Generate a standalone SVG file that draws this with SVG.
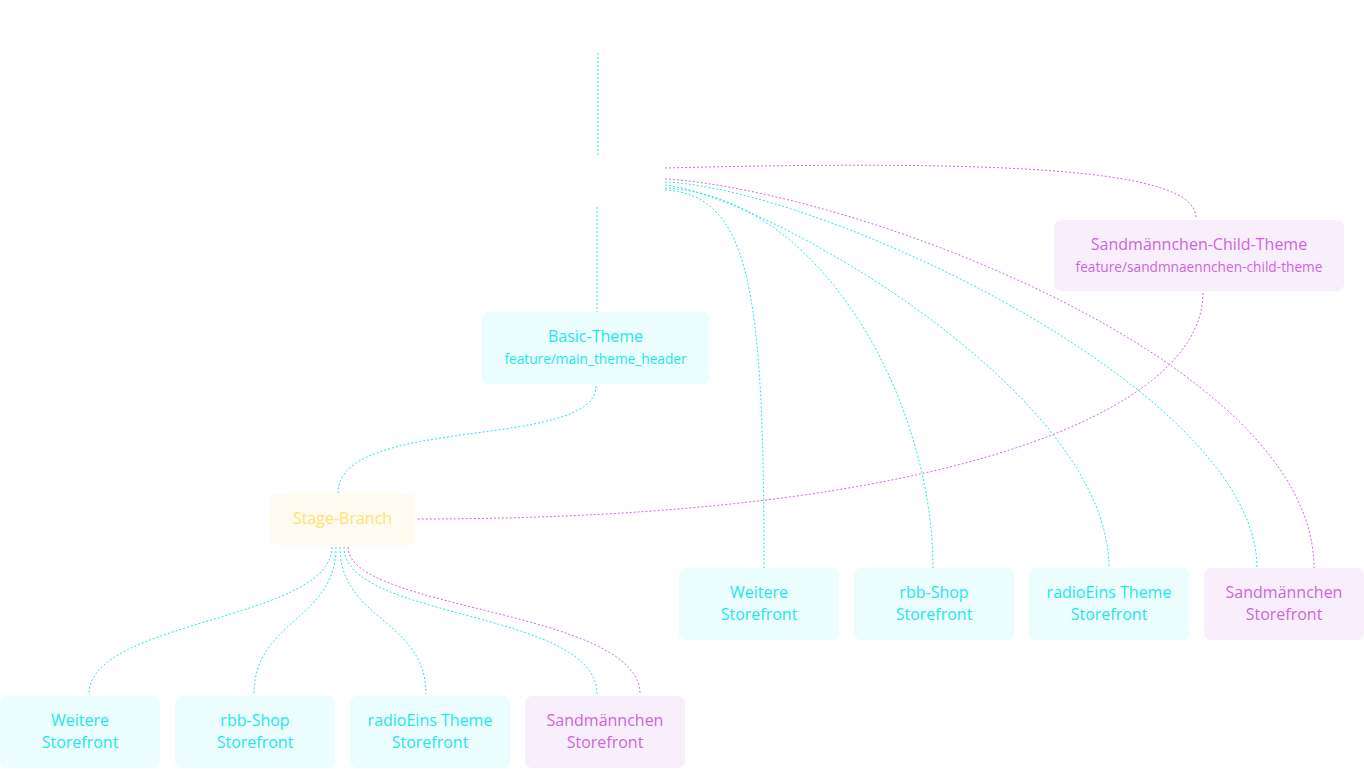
<svg xmlns="http://www.w3.org/2000/svg" width="1364" height="769" viewBox="0 0 1364 769">
<style>
.c{fill:none;stroke:#2de3ea;stroke-width:1;stroke-dasharray:2 2}
.p{fill:none;stroke:#cf6ae0;stroke-width:1;stroke-dasharray:2 2}
.nc rect{fill:#ebfdfd}
.nc text{fill:#1fe6ee}
.np rect{fill:#f9effc}
.np text{fill:#cd66de}
.ny rect{fill:#fffbee}
.ny text{fill:#fde37a}
text{font-family:"Open Sans","Liberation Sans",sans-serif;font-size:16px;text-anchor:middle}
.s{font-size:13.7px}
</style>
<rect width="1364" height="769" fill="#ffffff"/>
<g id="connectors">
<path class="c" d="M598,53 L598,157"/>
<path class="c" d="M597,207 L597,313"/>
<path class="p" d="M665,168 C1060,158 1196,175 1196,218"/>
<path class="p" d="M665,179 C850,190 1314,360 1314,568"/>
<path class="c" d="M665,182 C820,188 1257,390 1257,568"/>
<path class="c" d="M665,185 C760,195 1109,390 1109,568"/>
<path class="c" d="M665,188 C820,195 933,400 933,568"/>
<path class="c" d="M665,190 C750,195 764,290 764,568"/>
<path class="p" d="M1203,293 C1203,410 950,519 417,519"/>
<path class="c" d="M596,386 C596,450 338,415 338,493"/>
<path class="c" d="M332,547 C332,620 89,620 89,694"/>
<path class="c" d="M336,547 C336,620 254,620 254,694"/>
<path class="c" d="M340,547 C340,620 426,620 426,694"/>
<path class="c" d="M344,547 C344,620 597,610 597,694"/>
<path class="p" d="M348,547 C348,610 640,610 640,694"/>
</g>
<g id="basic-theme" class="nc">
<rect x="482" y="312" width="227" height="72" rx="7"/>
<text x="595.5" y="342">Basic-Theme</text>
<text class="s" x="595.5" y="364">feature/main_theme_header</text>
</g>
<g id="child-theme" class="np">
<rect x="1054" y="220" width="290" height="71" rx="7"/>
<text x="1199" y="250">Sandmännchen-Child-Theme</text>
<text class="s" x="1199" y="272">feature/sandmnaennchen-child-theme</text>
</g>
<g id="stage-branch" class="ny">
<rect x="270" y="494" width="145" height="51" rx="7"/>
<text x="342.5" y="524">Stage-Branch</text>
</g>
<g id="stage-weitere" class="nc">
<rect x="0" y="696" width="160" height="72" rx="7"/>
<text x="80" y="726">Weitere</text>
<text x="80" y="748">Storefront</text>
</g>
<g id="stage-rbb" class="nc">
<rect x="175" y="696" width="160" height="72" rx="7"/>
<text x="255" y="726">rbb-Shop</text>
<text x="255" y="748">Storefront</text>
</g>
<g id="stage-radioeins" class="nc">
<rect x="350" y="696" width="160" height="72" rx="7"/>
<text x="430" y="726">radioEins Theme</text>
<text x="430" y="748">Storefront</text>
</g>
<g id="stage-sandmann" class="np">
<rect x="525" y="696" width="160" height="72" rx="7"/>
<text x="605" y="726">Sandmännchen</text>
<text x="605" y="748">Storefront</text>
</g>
<g id="main-weitere" class="nc">
<rect x="679" y="568" width="160" height="72" rx="7"/>
<text x="759" y="598">Weitere</text>
<text x="759" y="620">Storefront</text>
</g>
<g id="main-rbb" class="nc">
<rect x="854" y="568" width="160" height="72" rx="7"/>
<text x="934" y="598">rbb-Shop</text>
<text x="934" y="620">Storefront</text>
</g>
<g id="main-radioeins" class="nc">
<rect x="1029" y="568" width="160" height="72" rx="7"/>
<text x="1109" y="598">radioEins Theme</text>
<text x="1109" y="620">Storefront</text>
</g>
<g id="main-sandmann" class="np">
<rect x="1204" y="568" width="160" height="72" rx="7"/>
<text x="1284" y="598">Sandmännchen</text>
<text x="1284" y="620">Storefront</text>
</g>
</svg>
